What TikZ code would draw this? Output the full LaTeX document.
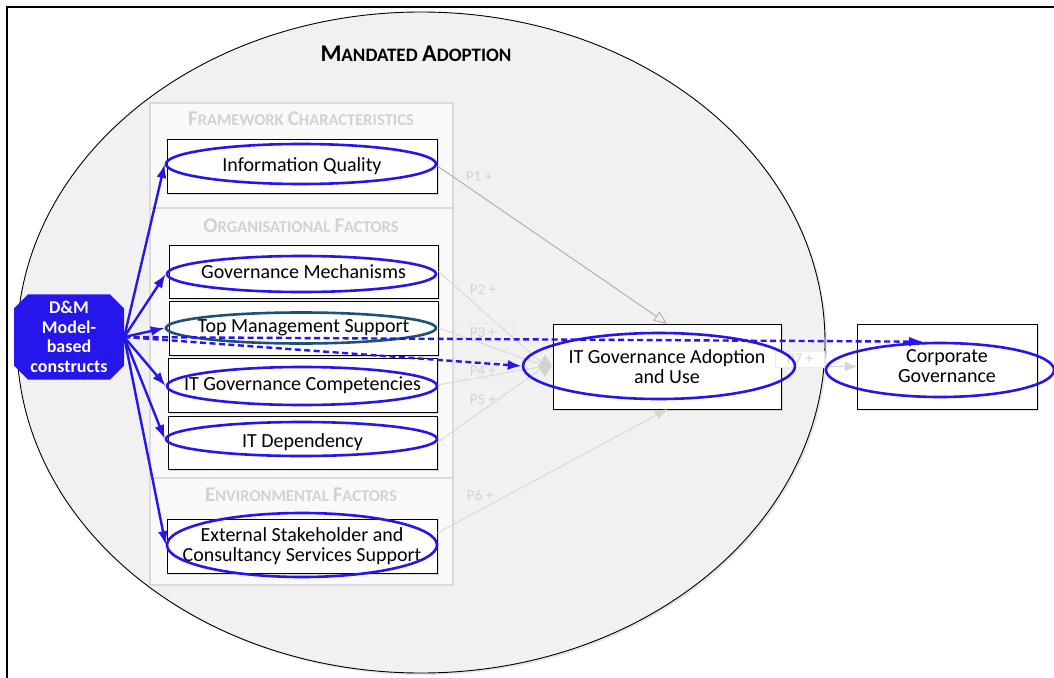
\documentclass[tikz,border=0pt]{standalone}
\usepackage{fontspec}
\setmainfont{Carlito}
\usetikzlibrary{arrows.meta,shapes.geometric,shapes.misc,calc,shadows}

\definecolor{dmblue}{RGB}{38,22,236}
\definecolor{tealring}{RGB}{31,80,120}
\definecolor{zone}{RGB}{241,241,241}
\definecolor{panelline}{RGB}{218,218,218}
\definecolor{faint}{RGB}{210,210,210}
\definecolor{pathgrey}{RGB}{172,172,172}
\definecolor{lightpath}{RGB}{214,214,214}

% two-size small caps: capital letter, then the rest in reduced capitals
\newcommand{\scword}[4]{{\fontsize{#1}{#1}\selectfont #3}{\fontsize{#2}{#2}\selectfont #4}}

\tikzset{
  factorbox/.style={draw=black, line width=0.8pt, fill=white, inner sep=0pt,
    align=center, font=\fontsize{20}{20}\selectfont,
    drop shadow={shadow xshift=1.5pt, shadow yshift=-1.5pt, opacity=0.25}},
  ring/.style={ellipse, draw=dmblue, line width=2.6pt, inner sep=0pt},
  section/.style={draw=panelline, line width=1.6pt, fill=white!60!zone},
  sectitle/.style={text=faint, font=\bfseries\fontsize{18}{18}\selectfont},
  plabel/.style={text=faint, font=\fontsize{15}{15}\selectfont},
  plabelbox/.style={draw=black!8, line width=0.7pt, minimum width=58, minimum height=18, inner sep=0pt},
  path1/.style={draw=pathgrey, line width=0.9pt},
  path2/.style={draw=lightpath, line width=0.9pt},
  bluearrow/.style={draw=dmblue, line width=2.4pt, -{Latex[length=14pt,width=10pt]}},
  bluedash/.style={draw=dmblue, line width=2.4pt, dash pattern=on 6pt off 3.5pt, -{Latex[length=14pt,width=10pt]}}
}

\begin{document}
\begin{tikzpicture}[x=1pt,y=-1pt]
\useasboundingbox (0,0) rectangle (1054,677);
\clip (0,0) rectangle (1054,677);

% frame around the model
\draw[line width=1.5pt] (7,700) -- (7,7) -- (1080,7);

% the mandated adoption context
\node[ellipse, draw=black, line width=0.9pt, fill=zone, minimum width=808, minimum height=661, inner sep=0pt,
  drop shadow={shadow xshift=2pt, shadow yshift=-2pt, opacity=0.2}] (ctx) at (421,342.5) {};
\node[font=\bfseries\fontsize{20}{20}\selectfont] (ctxtitle) at (416,54) {\scword{24}{19}{M}{ANDATED} \scword{24}{19}{A}{DOPTION}};

% factor panel with three sections
\node[section, minimum width=303, minimum height=105, inner sep=0pt] (secfw) at (301.5,155.5) {};
\node[section, minimum width=303, minimum height=270, inner sep=0pt] (secorg) at (301.5,343) {};
\node[section, minimum width=303, minimum height=107, inner sep=0pt] (secenv) at (301.5,531.5) {};
\node[sectitle] (tfw) at (301,119) {\scword{21}{16.5}{F}{RAMEWORK} \scword{21}{16.5}{C}{HARACTERISTICS}};
\node[sectitle] (torg) at (301,226) {\scword{21}{16.5}{O}{RGANISATIONAL} \scword{21}{16.5}{F}{ACTORS}};
\node[sectitle] (tenv) at (301,495) {\scword{21}{16.5}{E}{NVIRONMENTAL} \scword{21}{16.5}{F}{ACTORS}};

% construct boxes
\node[factorbox, minimum width=270, minimum height=54] (iqbox) at (302,166) {Information Quality};
\node[factorbox, minimum width=269, minimum height=53] (gmbox) at (303.5,271.5) {Governance Mechanisms};
\node[factorbox, minimum width=269, minimum height=54] (tmsbox) at (303.5,328) {Top Management Support};
\node[factorbox, minimum width=269, minimum height=54] (itgcbox) at (302.5,385) {IT Governance Competencies};
\node[factorbox, minimum width=269, minimum height=53] (itdbox) at (302.5,442.5) {IT Dependency};
\node[factorbox, minimum width=270, minimum height=54] (extbox) at (302,546) {External Stakeholder and\\Consultancy Services Support};
\node[factorbox, minimum width=228, minimum height=85] (itgaubox) at (667,366.5) {IT Governance Adoption\\and Use};
\node[factorbox, minimum width=180, minimum height=85] (cgbox) at (947,366.5) {Corporate\\Governance};

% proposition paths
\node[diamond, fill=faint, minimum width=14, minimum height=22, inner sep=0pt] (junc) at (545,366) {};
\draw[path1, -{Triangle[open, length=13pt, width=11pt]}] (iqbox.east) -- (itgaubox.north);
\draw[path2] (gmbox.east) -- (junc);
\draw[path2] (tmsbox.east) -- (junc);
\draw[path2] (itgcbox.east) -- (junc);
\draw[path2] (itdbox.east) -- (junc);
\draw[path2] (junc) -- (itgaubox.west);
\draw[path2, -{Triangle[length=12pt, width=9pt]}] ($(extbox.east)+(0,-13)$) -- (itgaubox.south);
\draw[path2, -{Triangle[length=12pt, width=9pt]}] (itgaubox.east) -- (cgbox.west);

\node[plabel] (p1) at (479,177) {P1 +};
\node[plabel] (p2) at (483,290) {P2 +};
\node[plabelbox] (p3box) at (484.5,332.5) {};
\node[plabel] (p3) at (483,333) {P3 +};
\node[plabelbox] (p4box) at (484,369) {};
\node[plabel] (p4) at (483,371) {P4 +};
\node[plabel] (p5) at (483,400) {P5 +};
\node[plabel] (p6) at (480,495) {P6 +};
\node[plabelbox, minimum width=49, minimum height=16, fill=white] (p7box) at (800,359) {};
\node[plabel] (p7) at (800,359) {P7 +};

% D&M construct rings
\node[ring, minimum width=270, minimum height=40] (iq) at (301,164) {};
\node[ring, minimum width=269, minimum height=36] (gm) at (301.5,274) {};
\node[ring, draw=tealring, minimum width=270, minimum height=31] (tms) at (301,328) {};
\node[ring, minimum width=270, minimum height=38] (itgc) at (302,386) {};
\node[ring, minimum width=271, minimum height=34] (itd) at (301.5,439) {};
\node[ring, minimum width=270, minimum height=64] (ext) at (302,545) {};
\node[ring, minimum width=272, minimum height=66] (itgau) at (659,366) {};
\node[ring, minimum width=228, minimum height=54] (cg) at (940,370) {};

% D&M model-based constructs
\node[chamfered rectangle, chamfered rectangle xsep=7pt, chamfered rectangle ysep=7pt,
  fill=dmblue, minimum width=110, minimum height=85, inner sep=0pt,
  text=white, font=\bfseries\fontsize{18}{19.5}\selectfont, align=center] (dm) at (69,337)
  {D\&M\\Model-\\based\\constructs};

\draw[bluearrow] (dm.east) -- (iq.west);
\draw[bluearrow] (dm.east) -- (gm.west);
\draw[bluearrow] (dm.east) -- (tms.west);
\draw[bluearrow] (dm.east) -- (itgc.west);
\draw[bluearrow] (dm.east) -- (itd.west);
\draw[bluearrow] (dm.east) -- (ext.west);
\draw[bluedash] (dm.east) -- (itgau.west);
\draw[bluedash] (dm.east) -- ($(cg.north)+(-17,0)$);
\end{tikzpicture}
\end{document}
